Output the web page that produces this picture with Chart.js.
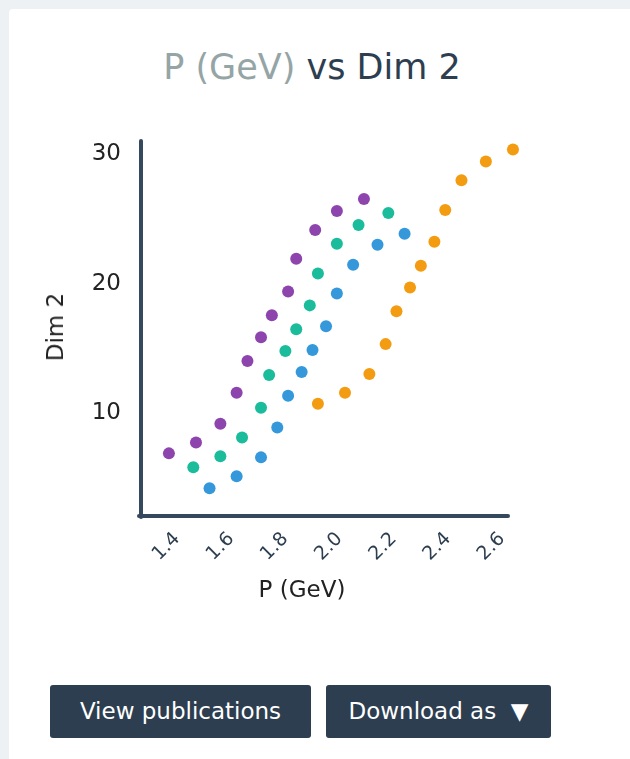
<!DOCTYPE html>
<html>
<head>
<meta charset="utf-8">
<script src="https://cdn.jsdelivr.net/npm/chart.js@4.4.1/dist/chart.umd.min.js"></script>
<style>
  body { margin: 0; width: 630px; height: 759px; overflow: hidden; position: relative;
         background: #edf1f4; font-family: 'DejaVu Sans', sans-serif; }
  .card { position: absolute; left: 9px; top: 9px; width: 640px; height: 780px; background: #fff; border-radius: 4px; }
  .title { position: absolute; left: 0; width: 624px; top: 47px; text-align: center;
           font-size: 35px; color: #2c3e50; white-space: nowrap; }
  .title .var { color: #95a5a6; }
  #wrap { position: absolute; left: 0; top: 109px; width: 630px; height: 520px; }
  .xtitle { position: absolute; left: 302px; top: 589px; transform: translate(-50%, -50%);
            font-size: 23px; color: #222; white-space: nowrap; }
  .ytitle { position: absolute; left: 55px; top: 327px; transform: translate(-50%, -50%) rotate(-90deg);
            font-size: 23px; color: #222; white-space: nowrap; }
  .btn { position: absolute; top: 685px; height: 53px; line-height: 53px; background: #2c3e50;
         color: #fff; border-radius: 3px; font-size: 23px; text-align: center; }
</style>
</head>
<body>
<div class="card"></div>
<div class="title"><span class="var">P (GeV)</span> vs Dim 2</div>
<div id="wrap"><canvas id="chart" width="630" height="520"></canvas></div>
<div class="xtitle">P (GeV)</div>
<div class="ytitle">Dim 2</div>
<div class="btn" style="left:50px;width:261px;">View publications</div>
<div class="btn" style="left:326px;width:225px;">Download as &nbsp;&#9660;</div>

<script>
// ---- dados ----
const X_TICKS = [1.4, 1.6, 1.8, 2.0, 2.2, 2.4, 2.6];
const Y_TICKS = [10, 20, 30];

const pPurple   = [1.37, 1.47, 1.56, 1.62, 1.66, 1.71, 1.75, 1.81, 1.84, 1.91, 1.99, 2.09];
const dimPurple = [6.85, 7.69, 9.15, 11.54, 14.0, 15.85, 17.54, 19.38, 21.92, 24.15, 25.62, 26.54];

const pTeal   = [1.46, 1.56, 1.64, 1.71, 1.74, 1.80, 1.84, 1.89, 1.92, 1.99, 2.07, 2.18];
const dimTeal = [5.77, 6.62, 8.08, 10.38, 12.92, 14.77, 16.46, 18.31, 20.77, 23.08, 24.54, 25.46];

const pBlue   = [1.52, 1.62, 1.71, 1.77, 1.81, 1.86, 1.90, 1.95, 1.99, 2.05, 2.14, 2.24];
const dimBlue = [4.15, 5.08, 6.54, 8.85, 11.31, 13.15, 14.85, 16.69, 19.23, 21.46, 23.0, 23.85];

const pOrange   = [1.92, 2.02, 2.11, 2.17, 2.21, 2.26, 2.30, 2.35, 2.39, 2.45, 2.54, 2.64];
const dimOrange = [10.69, 11.54, 13.0, 15.31, 17.85, 19.69, 21.38, 23.23, 25.69, 28.0, 29.46, 30.38];

function pts(xs, ys) { return xs.map((x, i) => ({ x, y: ys[i] })); }

function serie(xs, ys, color) {
  return {
    data: pts(xs, ys),
    backgroundColor: color,
    borderWidth: 0,
    pointRadius: 6,
    pointHoverRadius: 6,
    clip: false,
  };
}

// pontas arredondadas nos eixos
const roundCaps = {
  id: 'roundCaps',
  beforeDraw(chart) { chart.ctx.lineCap = 'round'; }
};

new Chart(document.getElementById('chart'), {
  type: 'scatter',
  data: {
    datasets: [
      serie(pPurple, dimPurple, '#8e44ad'),
      serie(pTeal, dimTeal, '#1abc9c'),
      serie(pBlue, dimBlue, '#3498db'),
      serie(pOrange, dimOrange, '#f39c12'),
    ]
  },
  plugins: [roundCaps],
  options: {
    responsive: false,
    animation: false,
    devicePixelRatio: 1,
    layout: { autoPadding: false, padding: { left: 0, top: 21, right: 123, bottom: 13 } },
    plugins: { legend: { display: false }, tooltip: { enabled: false } },
    scales: {
      x: {
        type: 'linear',
        min: 1.267,
        max: 2.618,
        afterBuildTicks: s => { s.ticks = X_TICKS.map(v => ({ value: v })); },
        afterFit: s => { s.height = 100; },
        ticks: {
          minRotation: 45,
          maxRotation: 45,
          padding: 12,
          color: '#2c3e50',
          font: { family: 'DejaVu Sans', size: 19 },
          callback: v => v.toFixed(1)
        },
        grid: { display: false, drawTicks: false },
        border: { color: '#34495e', width: 4 }
      },
      y: {
        type: 'linear',
        min: 2,
        max: 30.9,
        afterBuildTicks: s => { s.ticks = Y_TICKS.map(v => ({ value: v })); },
        afterFit: s => { s.width = 141; },
        ticks: {
          padding: 20,
          color: '#222',
          font: { family: 'DejaVu Sans', size: 23 },
          callback: v => String(v)
        },
        grid: { display: false, drawTicks: false },
        border: { color: '#34495e', width: 4 }
      }
    }
  }
});
</script>
</body>
</html>
